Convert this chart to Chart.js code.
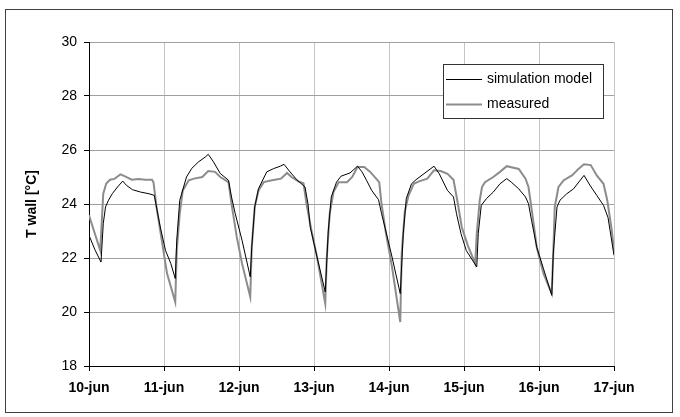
<!DOCTYPE html>
<html>
<head>
<meta charset="utf-8">
<script src="https://cdn.jsdelivr.net/npm/chart.js@4.4.1/dist/chart.umd.min.js"></script>
<style>
  html, body { margin: 0; padding: 0; background: #fff; }
  #wrap { position: relative; width: 680px; height: 417px; }
</style>
</head>
<body>
<div id="wrap"><canvas id="wallChart" width="680" height="417"></canvas></div>
<script>
// tick labels for each day (x = days since 10-jun)
const dayLabels = ['10-jun', '11-jun', '12-jun', '13-jun', '14-jun', '15-jun', '16-jun', '17-jun'];

// simulation model
const simDays = [0.00, 0.08, 0.16, 0.19, 0.22, 0.26, 0.31, 0.38, 0.45, 0.50, 0.58, 0.69, 0.80, 0.87,
  0.95, 1.02, 1.09, 1.15, 1.17, 1.21, 1.30, 1.37, 1.46, 1.55, 1.59, 1.66, 1.75, 1.86,
  1.90, 1.95, 2.04, 2.15, 2.17, 2.21, 2.26, 2.37, 2.46, 2.55, 2.60, 2.68, 2.77, 2.88,
  2.92, 2.95, 3.04, 3.15, 3.19, 3.23, 3.30, 3.36, 3.48, 3.58, 3.64, 3.70, 3.77, 3.86,
  3.90, 3.95, 4.04, 4.15, 4.19, 4.23, 4.30, 4.36, 4.48, 4.60, 4.67, 4.78, 4.86,
  4.90, 4.96, 5.03, 5.17, 5.19, 5.23, 5.30, 5.39, 5.48, 5.57, 5.63, 5.73, 5.82, 5.86,
  5.90, 5.97, 6.06, 6.17, 6.19, 6.24, 6.28, 6.37, 6.46, 6.60, 6.68, 6.77, 6.86, 6.92, 7.00];
const simTemp = [22.84, 22.30, 21.85, 23.27, 23.89, 24.14, 24.38, 24.63, 24.85, 24.69, 24.53, 24.44, 24.38, 24.32,
  23.15, 22.28, 21.80, 21.24, 22.66, 24.14, 25.00, 25.32, 25.56, 25.74, 25.84, 25.56, 25.13, 24.88,
  24.26, 23.64, 22.66, 21.30, 22.40, 23.90, 24.57, 25.19, 25.31, 25.40, 25.47, 25.19, 24.90, 24.63,
  24.00, 23.15, 22.04, 20.74, 23.00, 24.26, 24.81, 25.03, 25.15, 25.40, 25.19, 24.88, 24.50, 24.16,
  23.65, 23.09, 22.04, 20.68, 22.90, 24.20, 24.75, 24.90, 25.15, 25.40, 25.12, 24.50, 24.26,
  23.64, 22.90, 22.28, 21.67, 22.90, 23.95, 24.20, 24.44, 24.75, 24.94, 24.81, 24.56, 24.26, 24.01,
  23.40, 22.40, 21.60, 20.62, 22.16, 23.89, 24.14, 24.38, 24.56, 25.06, 24.69, 24.32, 23.95, 23.50, 22.10];

// measured wall temperature
const measDays = [0.00, 0.15, 0.19, 0.23, 0.28, 0.34, 0.42, 0.48, 0.57, 0.66, 0.75, 0.84, 0.86,
  0.90, 0.97, 1.04, 1.15, 1.17, 1.21, 1.25, 1.33, 1.40, 1.51, 1.59, 1.68, 1.75, 1.86,
  1.90, 1.97, 2.04, 2.15, 2.17, 2.21, 2.26, 2.33, 2.44, 2.56, 2.64, 2.70, 2.79, 2.86,
  2.90, 2.96, 3.04, 3.15, 3.17, 3.21, 3.26, 3.33, 3.44, 3.51, 3.58, 3.67, 3.75, 3.84, 3.87,
  3.90, 3.96, 4.04, 4.15, 4.17, 4.21, 4.26, 4.33, 4.40, 4.51, 4.60, 4.69, 4.78, 4.86,
  4.91, 4.97, 5.05, 5.15, 5.17, 5.21, 5.24, 5.28, 5.39, 5.48, 5.57, 5.73, 5.82, 5.86,
  5.91, 5.97, 6.06, 6.17, 6.19, 6.21, 6.26, 6.33, 6.44, 6.53, 6.60, 6.69, 6.77, 6.86,
  6.91, 6.97, 7.00];
const measTemp = [23.58, 22.28, 24.38, 24.76, 24.90, 24.93, 25.10, 25.02, 24.90, 24.93, 24.90, 24.90, 24.80,
  23.89, 22.66, 21.43, 20.37, 22.28, 23.65, 24.50, 24.88, 24.94, 25.00, 25.22, 25.19, 25.00, 24.81,
  24.01, 22.78, 21.80, 20.56, 22.40, 23.89, 24.50, 24.81, 24.88, 24.94, 25.15, 25.00, 24.84, 24.77,
  24.01, 23.10, 22.04, 20.31, 22.00, 23.65, 24.44, 24.81, 24.81, 25.00, 25.37, 25.37, 25.19, 24.90, 24.80,
  24.01, 22.90, 21.67, 19.63, 22.20, 23.70, 24.31, 24.75, 24.84, 24.94, 25.25, 25.22, 25.12, 24.90,
  24.14, 23.15, 22.47, 21.79, 22.90, 24.14, 24.63, 24.81, 25.00, 25.19, 25.40, 25.30, 24.94, 24.63,
  23.64, 22.40, 21.42, 20.68, 22.16, 23.89, 24.63, 24.88, 25.06, 25.31, 25.47, 25.44, 25.06, 24.75,
  24.14, 23.03, 22.28];

const yTicks = [18, 20, 22, 24, 26, 28, 30];

const toPoints = (xs, ys) => xs.map((x, i) => ({ x: x, y: ys[i] }));

// box legend inside the plot + outer frame
const frameAndLegend = {
    id: 'frameAndLegend',
    afterDraw(chart) {
        const ctx = chart.ctx;
        ctx.save();
        ctx.strokeStyle = '#404040';
        ctx.lineWidth = 1;
        ctx.strokeRect(5.5, 9.5, 667, 403);

        // legend box
        const bx = 443.5, by = 64.5, bw = 160, bh = 54;
        ctx.fillStyle = '#fff';
        ctx.fillRect(bx, by, bw, bh);
        ctx.strokeStyle = '#333';
        ctx.strokeRect(bx, by, bw, bh);
        ctx.font = '14px "Liberation Sans", Arial, sans-serif';
        ctx.textBaseline = 'middle';
        chart.data.datasets.forEach((ds, i) => {
            const y = 79.5 + i * 25;
            ctx.strokeStyle = ds.borderColor;
            ctx.lineWidth = ds.borderWidth;
            ctx.beginPath();
            ctx.moveTo(446, y);
            ctx.lineTo(482, y);
            ctx.stroke();
            ctx.fillStyle = '#000';
            ctx.fillText(ds.label, 487, y);
        });
        ctx.restore();
    }
};

const ctx = document.getElementById('wallChart').getContext('2d');
new Chart(ctx, {
    type: 'line',
    data: {
        datasets: [{
            label: 'simulation model',
            data: toPoints(simDays, simTemp),
            borderColor: '#000000',
            borderWidth: 1,
            pointRadius: 0,
            tension: 0
        }, {
            label: 'measured',
            data: toPoints(measDays, measTemp),
            borderColor: '#8c8c8c',
            borderWidth: 2,
            pointRadius: 0,
            tension: 0
        }]
    },
    options: {
        responsive: false,
        animation: false,
        events: [],
        layout: { padding: { left: 0, right: 66, top: 42, bottom: 0 } },
        plugins: {
            legend: { display: false },
            tooltip: { enabled: false }
        },
        scales: {
            x: {
                type: 'linear',
                min: 0,
                max: 7,
                afterFit: s => { s.height = 51; },
                afterBuildTicks: s => { s.ticks = dayLabels.map((l, i) => ({ value: i })); },
                ticks: {
                    callback: v => dayLabels[v],
                    color: '#000',
                    padding: 9,
                    maxRotation: 0,
                    font: { family: '"Liberation Sans", Arial, sans-serif', size: 14, weight: 'bold' }
                },
                grid: { color: '#c4c4c4', tickColor: '#000', tickLength: 5 },
                border: { color: '#000', width: 1 }
            },
            y: {
                min: 18,
                max: 30,
                afterFit: s => { s.width = 89; },
                afterBuildTicks: s => { s.ticks = yTicks.map(v => ({ value: v })); },
                ticks: {
                    color: '#000',
                    padding: 7,
                    font: { family: '"Liberation Sans", Arial, sans-serif', size: 14 }
                },
                grid: { color: '#a0a0a0', tickColor: '#000', tickLength: 5 },
                border: { color: '#000', width: 1 },
                title: {
                    display: true,
                    text: 'T wall [°C]',
                    color: '#000',
                    padding: { top: 24, bottom: 0 },
                    font: { family: '"Liberation Sans", Arial, sans-serif', size: 14, weight: 'bold' }
                }
            }
        }
    },
    plugins: [frameAndLegend]
});
</script>
</body>
</html>
